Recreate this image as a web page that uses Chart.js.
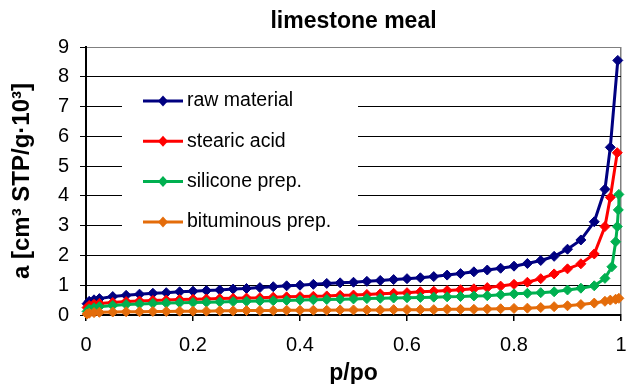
<!DOCTYPE html>
<html><head><meta charset="utf-8">
<script src="https://cdn.jsdelivr.net/npm/chart.js@4"></script>
<style>html,body{margin:0;padding:0;background:#fff}#wrap{width:627px;height:384px}</style>
</head><body><div id="wrap"><canvas id="c" width="627" height="384"></canvas></div>
<script>
const chartTitle = 'limestone meal';
const xTitle = 'p/po';
const yTitle = 'a [cm³ STP/g·10³]';
const seriesNames = ['raw material', 'stearic acid', 'silicone prep.', 'bituminous prep.'];
const seriesColors = ['#000080', '#FF0000', '#00B050', '#E46C0A'];

const relPressure = [0.002, 0.006, 0.015, 0.025, 0.05, 0.075, 0.1, 0.125, 0.15, 0.175, 0.2, 0.225, 0.25, 0.275, 0.3, 0.325, 0.35, 0.375, 0.4, 0.425, 0.45, 0.475, 0.5, 0.525, 0.55, 0.575, 0.6, 0.625, 0.65, 0.675, 0.7, 0.725, 0.75, 0.775, 0.8, 0.825, 0.85, 0.875, 0.9, 0.925, 0.95];

const rawMaterial = [0.38, 0.46, 0.51, 0.55, 0.62, 0.66, 0.70, 0.73, 0.75, 0.78, 0.80, 0.82, 0.84, 0.87, 0.89, 0.92, 0.95, 0.98, 1.00, 1.03, 1.06, 1.08, 1.10, 1.13, 1.16, 1.19, 1.22, 1.25, 1.29, 1.34, 1.39, 1.45, 1.51, 1.57, 1.64, 1.73, 1.83, 1.97, 2.21, 2.52, 3.13];
const rawTailX = [0.97, 0.98, 0.994];
const rawTailY = [4.22, 5.63, 8.55];

const stearicAcid = [0.25, 0.32, 0.36, 0.39, 0.42, 0.45, 0.47, 0.49, 0.50, 0.52, 0.53, 0.54, 0.55, 0.56, 0.57, 0.58, 0.60, 0.61, 0.62, 0.63, 0.64, 0.66, 0.67, 0.69, 0.71, 0.73, 0.75, 0.78, 0.80, 0.82, 0.85, 0.88, 0.92, 0.97, 1.03, 1.10, 1.22, 1.38, 1.55, 1.72, 2.05];
const stearicTailX = [0.97, 0.98, 0.993];
const stearicTailY = [2.97, 3.95, 5.45];

const siliconePrep = [0.12, 0.20, 0.24, 0.28, 0.32, 0.35, 0.37, 0.39, 0.40, 0.41, 0.42, 0.43, 0.44, 0.45, 0.46, 0.47, 0.48, 0.49, 0.50, 0.51, 0.52, 0.53, 0.54, 0.55, 0.56, 0.57, 0.58, 0.59, 0.60, 0.61, 0.62, 0.64, 0.65, 0.68, 0.71, 0.73, 0.75, 0.78, 0.84, 0.90, 0.98];
const siliconeTailX = [0.97, 0.983, 0.99, 0.993, 0.995, 0.996];
const siliconeTailY = [1.23, 1.62, 2.46, 2.97, 3.53, 4.05];

const bituminousPrep = [0.03, 0.06, 0.08, 0.09, 0.10, 0.11, 0.11, 0.12, 0.12, 0.13, 0.13, 0.13, 0.14, 0.14, 0.15, 0.15, 0.15, 0.16, 0.16, 0.16, 0.16, 0.17, 0.17, 0.17, 0.17, 0.18, 0.18, 0.18, 0.18, 0.19, 0.19, 0.19, 0.20, 0.21, 0.22, 0.23, 0.25, 0.28, 0.31, 0.35, 0.40];
const bituminousTailX = [0.97, 0.98, 0.99, 0.996];
const bituminousTailY = [0.46, 0.50, 0.53, 0.56];

const xTicks = [0, 0.2, 0.4, 0.6, 0.8, 1];
const yTicks = [0, 1, 2, 3, 4, 5, 6, 7, 8, 9];

function pts(xs, ys, tx, ty) {
  const out = xs.map((x, i) => ({x: x, y: ys[i]}));
  tx.forEach((x, i) => out.push({x: x, y: ty[i]}));
  return out;
}
const seriesData = [
  pts(relPressure, rawMaterial, rawTailX, rawTailY),
  pts(relPressure, stearicAcid, stearicTailX, stearicTailY),
  pts(relPressure, siliconePrep, siliconeTailX, siliconeTailY),
  pts(relPressure, bituminousPrep, bituminousTailX, bituminousTailY)
];

const FONT = "'Liberation Sans', Arial, sans-serif";

const datasets = seriesNames.map((name, i) => ({
  label: name,
  data: seriesData[i],
  showLine: true,
  borderColor: seriesColors[i],
  backgroundColor: seriesColors[i],
  borderWidth: 3,
  pointStyle: 'rectRot',
  pointRadius: 5,
  pointBorderWidth: 1,
  pointBackgroundColor: seriesColors[i],
  pointBorderColor: seriesColors[i],
  tension: 0,
  clip: false,
  order: seriesNames.length - i
}));

const insideLegend = {
  id: 'insideLegend',
  beforeDatasetsDraw(chart) {
    const ctx = chart.ctx;
    const a = chart.chartArea;
    ctx.save();
    ctx.fillStyle = '#ffffff';
    ctx.fillRect(a.left + 36, a.top + 40, 236, 163);
    const rowTop = a.top + 54;
    const rowGap = 40.3;
    ctx.font = "19.5px " + FONT;
    ctx.textBaseline = 'middle';
    ctx.textAlign = 'left';
    seriesNames.forEach((name, i) => {
      const y = rowTop + i * rowGap;
      const x0 = a.left + 57, x1 = a.left + 97, xm = (x0 + x1) / 2;
      ctx.strokeStyle = seriesColors[i];
      ctx.lineWidth = 3;
      ctx.beginPath(); ctx.moveTo(x0, y); ctx.lineTo(x1, y); ctx.stroke();
      ctx.fillStyle = seriesColors[i];
      ctx.beginPath();
      ctx.moveTo(xm, y - 5.5); ctx.lineTo(xm + 5, y); ctx.lineTo(xm, y + 5.5); ctx.lineTo(xm - 5, y);
      ctx.closePath(); ctx.fill();
      ctx.fillStyle = '#000';
      ctx.fillText(name, x1 + 4, y);
    });
    ctx.restore();
  }
};

new Chart(document.getElementById('c'), {
  type: 'scatter',
  data: {datasets: datasets},
  plugins: [insideLegend],
  options: {
    responsive: false,
    animation: false,
    layout: {padding: {left: 0, right: 3, top: 0, bottom: 0}},
    plugins: {
      legend: {display: false},
      tooltip: {enabled: false},
      title: {
        display: true,
        text: chartTitle,
        fullSize: false,
        color: '#000',
        font: {family: FONT, size: 23, weight: 'bold', lineHeight: 1.2},
        padding: {top: 8, bottom: 11.4}
      }
    },
    scales: {
      x: {
        type: 'linear', min: 0, max: 1,
        afterBuildTicks(s) { s.ticks = xTicks.map(v => ({value: v})); },
        afterFit(s) { s.height = 69; s.paddingLeft = 0; s.paddingRight = 0; },
        ticks: {color: '#000', padding: 12, font: {family: FONT, size: 20}, maxRotation: 0, autoSkip: false, callback: v => String(v)},
        grid: {
          color: c => (c.tick && c.tick.value === 1) ? '#808080' : 'rgba(0,0,0,0)',
          tickColor: '#000', tickLength: 6, lineWidth: 1.5, drawTicks: true
        },
        border: {color: '#000', width: 2},
        title: {display: true, text: xTitle, color: '#000', font: {family: FONT, size: 23, weight: 'bold', lineHeight: 1.2}, padding: {top: 0, bottom: -3}}
      },
      y: {
        type: 'linear', min: 0, max: 9,
        afterBuildTicks(s) { s.ticks = yTicks.map(v => ({value: v})); },
        afterFit(s) { s.width = 86; s.paddingTop = 0; s.paddingBottom = 0; },
        ticks: {color: '#000', padding: 11, font: {family: FONT, size: 20}, callback: v => String(v)},
        grid: {
          color: c => (c.tick && c.tick.value === 9) ? '#808080' : '#000',
          tickColor: '#000', tickLength: 6, lineWidth: 1
        },
        border: {color: '#000', width: 2},
        title: {display: true, text: yTitle, color: '#000', font: {family: FONT, size: 24, weight: 'bold', lineHeight: 1.2}, padding: {top: 8, bottom: 0}}
      }
    }
  }
});
</script>
</body></html>
